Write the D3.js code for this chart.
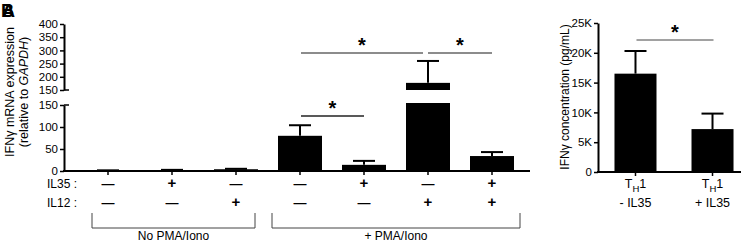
<!DOCTYPE html>
<html>
<head>
<meta charset="utf-8">
<script src="https://cdn.jsdelivr.net/npm/d3@7"></script>
<style>
  body { margin: 0; background: #fff; }
  svg { font-family: "Liberation Sans", Arial, sans-serif; }
</style>
</head>
<body>
<svg id="chart" width="750" height="244"></svg>
<script>
// left panel data
const groups = ['g1', 'g2', 'g3', 'g4', 'g5', 'g6', 'g7']
const il35 = ['—', '+', '—', '—', '+', '—', '+']
const il12 = ['—', '—', '+', '—', '—', '+', '+']
const mrnaMean = [1, 2, 4, 80, 14, 177, 34]
const mrnaSem = [0.5, 0.6, 1, 24, 9, 83, 9]
const lowTicks = [0, 50, 100, 150]
const highTicks = [150, 200, 250, 300, 350, 400]
// significance: [from group, to group, line y]
const mrnaSig = [['g4', 'g5', 116], ['g4', 'g6', 53], ['g6', 'g7', 53]]

// right panel data
const th1Groups = ['- IL35', '+ IL35']
const th1Mean = [16500, 7200]
const th1Sem = [3800, 2600]
const th1Ticks = [0, 5000, 10000, 15000, 20000, 25000]

const svg = d3.select('#chart')

// panel letters (overlapping, as in the figure)
svg.append('text').attr('x', 1).attr('y', 17).attr('font-size', 18).attr('font-weight', 'bold').text('B')
svg.append('text').attr('x', 2).attr('y', 17).attr('font-size', 18).attr('font-weight', 'bold').text('A')

// ---------- left panel ----------
const x = d3.scaleBand().domain(groups).range([76, 524])
  .paddingInner(0.3125).paddingOuter(0.15625)
const yLow = d3.scaleLinear().domain([0, 150]).range([171, 105])
const yHigh = d3.scaleLinear().domain([150, 400]).range([90, 24])

const left = svg.append('g')

function styleAxis(g) {
  g.select('.domain').attr('stroke', '#000').attr('stroke-width', 2)
  g.selectAll('.tick line').attr('stroke', '#000').attr('stroke-width', 1.5)
  g.selectAll('.tick text').attr('font-size', 11.5).attr('fill', '#000')
    .attr('font-family', '"Liberation Sans", Arial, sans-serif')
}

left.append('g').attr('transform', 'translate(64,0)')
  .call(d3.axisLeft(yLow).tickValues(lowTicks).tickSize(4).tickSizeOuter(0).tickPadding(2))
  .call(styleAxis)
left.append('g').attr('transform', 'translate(64,0)')
  .call(d3.axisLeft(yHigh).tickValues(highTicks).tickSize(4).tickSizeOuter(0).tickPadding(2))
  .call(styleAxis)
// break caps extending right
left.append('line').attr('x1', 64).attr('x2', 69).attr('y1', yHigh(150)).attr('y2', yHigh(150))
  .attr('stroke', '#000').attr('stroke-width', 1.5)
left.append('line').attr('x1', 64).attr('x2', 69).attr('y1', yLow(150)).attr('y2', yLow(150))
  .attr('stroke', '#000').attr('stroke-width', 1.5)

// x axis line
left.append('line').attr('x1', 63).attr('x2', 530).attr('y1', yLow(0)).attr('y2', yLow(0))
  .attr('stroke', '#000').attr('stroke-width', 2)
left.selectAll('.xtick').data(groups).join('line')
  .attr('x1', d => x(d) + x.bandwidth() / 2).attr('x2', d => x(d) + x.bandwidth() / 2)
  .attr('y1', yLow(0)).attr('y2', yLow(0) + 4)
  .attr('stroke', '#000').attr('stroke-width', 1.5)

const rows = groups.map((g, i) => ({ g, mean: mrnaMean[i], top: mrnaMean[i] + mrnaSem[i] }))

// bars, lower segment
left.selectAll('.barLow').data(rows).join('rect')
  .attr('x', d => x(d.g)).attr('width', x.bandwidth())
  .attr('y', d => d.mean > 150 ? yLow(150) - 2 : yLow(d.mean))
  .attr('height', d => yLow(0) - (d.mean > 150 ? yLow(150) - 2 : yLow(d.mean)))
  .attr('fill', '#000')
// bars, upper segment
left.selectAll('.barHigh').data(rows.filter(d => d.mean > 150)).join('rect')
  .attr('x', d => x(d.g)).attr('width', x.bandwidth())
  .attr('y', d => yHigh(d.mean)).attr('height', d => yHigh(150) - yHigh(d.mean))
  .attr('fill', '#000')

// error bars
const yAny = v => v > 150 ? yHigh(v) : yLow(v)
left.selectAll('.err').data(rows).join('line')
  .attr('x1', d => x(d.g) + x.bandwidth() / 2).attr('x2', d => x(d.g) + x.bandwidth() / 2)
  .attr('y1', d => yAny(d.mean)).attr('y2', d => yAny(d.top))
  .attr('stroke', '#000').attr('stroke-width', 2)
left.selectAll('.cap').data(rows).join('line')
  .attr('x1', d => x(d.g) + x.bandwidth() / 2 - 11).attr('x2', d => x(d.g) + x.bandwidth() / 2 + 11)
  .attr('y1', d => yAny(d.top)).attr('y2', d => yAny(d.top))
  .attr('stroke', '#000').attr('stroke-width', 2)

// significance lines
mrnaSig.forEach(([a, b, yy], i) => {
  const x1 = x(a) + x.bandwidth() / 2 + (i === 2 ? 0 : 1)
  const x2 = x(b) + x.bandwidth() / 2 - (i === 1 ? 5 : 0)
  left.append('line').attr('x1', x1).attr('x2', x2).attr('y1', yy).attr('y2', yy)
    .attr('stroke', i === 0 ? '#222' : '#666').attr('stroke-width', 1.3)
  left.append('text').attr('x', (x1 + x2) / 2).attr('y', yy - 1)
    .attr('text-anchor', 'middle').attr('font-size', 20).attr('font-weight', 'bold').text('*')
})

// treatment rows
const rowY = [188, 207]
;[['IL35 :', il35], ['IL12 :', il12]].forEach(([lab, signs], r) => {
  left.append('text').attr('x', 47).attr('y', rowY[r]).attr('font-size', 12).text(lab)
  left.selectAll('.s' + r).data(groups).join('text')
    .attr('x', d => x(d) + x.bandwidth() / 2).attr('y', rowY[r])
    .attr('text-anchor', 'middle').attr('font-size', (d, i) => signs[i] === '+' ? 15 : 13)
    .attr('font-weight', 'bold')
    .text((d, i) => signs[i])
})

// brackets
const brackets = [['No PMA/Iono', 92, 255], ['+ PMA/Iono', 272, 520]]
brackets.forEach(([lab, a, b]) => {
  left.append('path').attr('d', `M${a},213V228H${b}V213`)
    .attr('fill', 'none').attr('stroke', '#444').attr('stroke-width', 1)
  left.append('text').attr('x', (a + b) / 2).attr('y', 240)
    .attr('text-anchor', 'middle').attr('font-size', 12).text(lab)
})

// y title
const ttl = left.append('text').attr('transform', 'translate(0,92) rotate(-90)')
  .attr('text-anchor', 'middle').attr('font-size', 12.5)
ttl.append('tspan').attr('x', 0).attr('y', 14).text('IFNγ mRNA expression')
const t2 = ttl.append('tspan').attr('x', 0).attr('y', 28)
t2.append('tspan').text('(relative to ')
t2.append('tspan').attr('font-style', 'italic').text('GAPDH')
t2.append('tspan').text(')')

// ---------- right panel ----------
const x2 = d3.scaleBand().domain(th1Groups).range([597, 751]).paddingInner(0.4545).paddingOuter(0.227)
const y2 = d3.scaleLinear().domain([0, 25000]).range([172, 23])
const right = svg.append('g')

right.append('g').attr('transform', 'translate(598,0)')
  .call(d3.axisLeft(y2).tickValues(th1Ticks).tickSize(4).tickSizeOuter(0).tickPadding(2)
    .tickFormat(d => d === 0 ? '0' : (d / 1000) + 'K'))
  .call(styleAxis)
right.append('line').attr('x1', 597).attr('x2', 741).attr('y1', y2(0)).attr('y2', y2(0))
  .attr('stroke', '#000').attr('stroke-width', 2)

const rows2 = th1Groups.map((g, i) => ({ g, mean: th1Mean[i], top: th1Mean[i] + th1Sem[i] }))
right.selectAll('.xtick').data(th1Groups).join('line')
  .attr('x1', d => x2(d) + x2.bandwidth() / 2).attr('x2', d => x2(d) + x2.bandwidth() / 2)
  .attr('y1', y2(0)).attr('y2', y2(0) + 4).attr('stroke', '#000').attr('stroke-width', 1.5)
right.selectAll('.bar').data(rows2).join('rect')
  .attr('x', d => x2(d.g)).attr('width', x2.bandwidth())
  .attr('y', d => y2(d.mean)).attr('height', d => y2(0) - y2(d.mean)).attr('fill', '#000')
right.selectAll('.err').data(rows2).join('line')
  .attr('x1', d => x2(d.g) + x2.bandwidth() / 2).attr('x2', d => x2(d.g) + x2.bandwidth() / 2)
  .attr('y1', d => y2(d.mean)).attr('y2', d => y2(d.top)).attr('stroke', '#000').attr('stroke-width', 2)
right.selectAll('.cap').data(rows2).join('line')
  .attr('x1', d => x2(d.g) + x2.bandwidth() / 2 - 11).attr('x2', d => x2(d.g) + x2.bandwidth() / 2 + 11)
  .attr('y1', d => y2(d.top)).attr('y2', d => y2(d.top)).attr('stroke', '#000').attr('stroke-width', 2)

// significance
const sx1 = x2(th1Groups[0]) + x2.bandwidth() / 2 + 1
const sx2 = x2(th1Groups[1]) + x2.bandwidth() / 2 + 1
right.append('line').attr('x1', sx1).attr('x2', sx2).attr('y1', 40).attr('y2', 40)
  .attr('stroke', '#444').attr('stroke-width', 1)
right.append('text').attr('x', (sx1 + sx2) / 2).attr('y', 39)
  .attr('text-anchor', 'middle').attr('font-size', 20).attr('font-weight', 'bold').text('*')

// x labels with subscript
th1Groups.forEach(g => {
  const cx = x2(g) + x2.bandwidth() / 2
  const t = right.append('text').attr('x', cx).attr('y', 188).attr('text-anchor', 'middle').attr('font-size', 12.5)
  t.append('tspan').text('T')
  t.append('tspan').attr('font-size', 9.5).attr('dy', 4).text('H')
  t.append('tspan').attr('dy', -4).text('1')
  right.append('text').attr('x', cx).attr('y', 207).attr('text-anchor', 'middle').attr('font-size', 12.5).text(g)
})

right.append('text').attr('transform', 'translate(569,97) rotate(-90)')
  .attr('text-anchor', 'middle').attr('font-size', 12).text('IFNγ concentration (pg/mL)')
</script>
</body>
</html>
